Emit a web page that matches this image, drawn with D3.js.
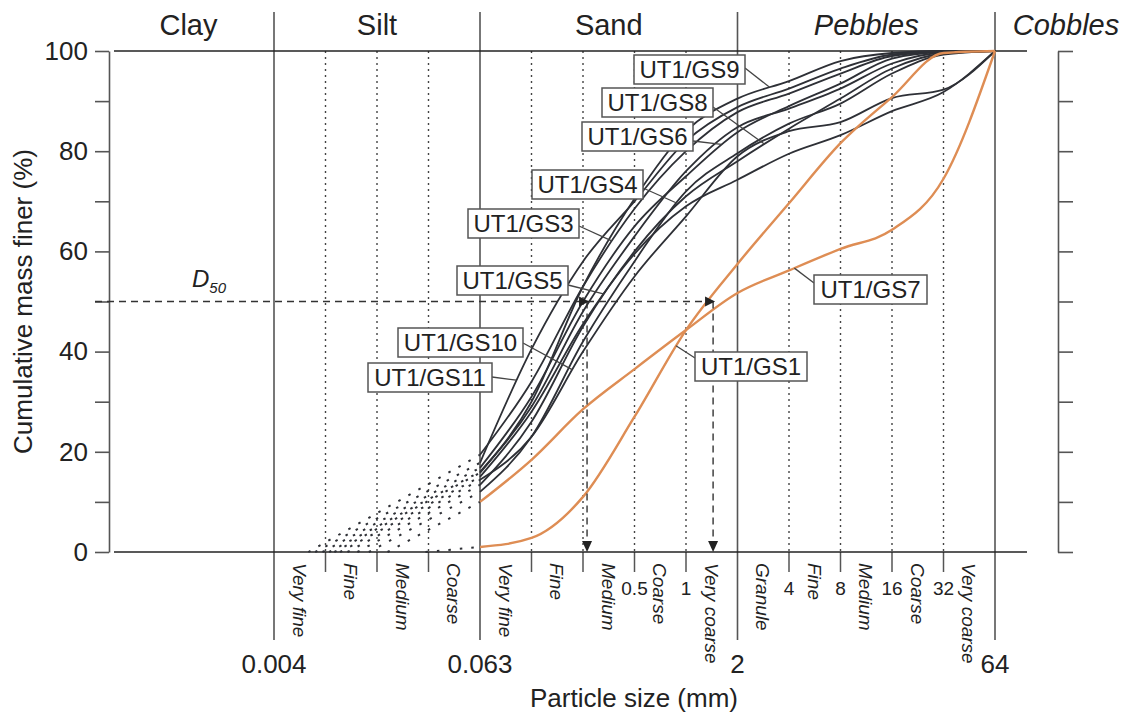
<!DOCTYPE html>
<html>
<head>
<meta charset="utf-8">
<script src="https://cdn.jsdelivr.net/npm/d3@7/dist/d3.min.js"></script>
<style>
  body { margin: 0; background: #fff; }
  svg { display: block; font-family: "Liberation Sans", Arial, sans-serif; }
</style>
</head>
<body>
<svg id="chart" width="1139" height="718"></svg>
<script>
// Sieve sizes (mm), one phi step apart
const sizesMm = [0.0625, 0.125, 0.25, 0.5, 1, 2, 4, 8, 16, 32, 64];

// Cumulative mass finer (%) at each sieve size
const gs1 = [1, 2.8, 11, 27, 44.3, 57.5, 69.6, 81.6, 90.8, 99.6, 100];
const gs2 = [16.0, 29, 48, 63, 76, 84.8, 88.5, 92.5, 97.5, 99.7, 100];
const gs3 = [19.4, 34, 53, 68.5, 80, 87.8, 91.5, 95.5, 99, 99.9, 100];
const gs4 = [12.0, 23, 42, 58, 72, 79.6, 85.5, 89.5, 95.5, 99.3, 100];
const gs5 = [15.0, 28, 45.5, 59.5, 69, 74.3, 79.5, 83.2, 88, 91.8, 100];
const gs6 = [16.8, 31, 50, 65, 75, 83.8, 89, 93.5, 98.5, 99.8, 100];
const gs7 = [10, 18.4, 28.5, 36.5, 44.3, 51.7, 56.2, 60.5, 64.3, 74.5, 100];
const gs8 = [13.4, 26, 45, 60, 71, 78, 84.5, 90.5, 96.5, 99.5, 100];
const gs9 = [15.8, 30, 53, 70.5, 84, 90.5, 94, 98, 99.6, 100, 100];
const gs10 = [14.4, 23, 40, 55, 67, 79, 84, 85.8, 90.6, 92.3, 100];
const gs11 = [17.8, 40.5, 58, 70, 82, 88.8, 92.5, 96.5, 99.3, 100, 100];

// Size (mm) where the dotted extrapolation of each curve reaches 0 %
const zeroSize = {
  GS1: 0.03, GS2: 0.0082, GS3: 0.0062, GS4: 0.014, GS5: 0.0095, GS6: 0.0075,
  GS7: 0.018, GS8: 0.012, GS9: 0.0088, GS10: 0.0105, GS11: 0.0068
};

// D50 read-offs (mm)
const d50Sizes = [0.264, 1.44];

// Wentworth classes
const mainBounds = [1 / 256, 1 / 16, 2, 64];
const mainBoundLabels = ['0.004', '0.063', '2', '64'];
const subBounds = [1 / 128, 1 / 64, 1 / 32, 1 / 8, 1 / 4, 1 / 2, 1, 4, 8, 16, 32];
const subBoundLabels = { 0.5: '0.5', 1: '1', 4: '4', 8: '8', 16: '16', 32: '32' };
const classNames = [
  'Very fine', 'Fine', 'Medium', 'Coarse',
  'Very fine', 'Fine', 'Medium', 'Coarse', 'Very coarse',
  'Granule', 'Fine', 'Medium', 'Coarse', 'Very coarse'
];
const headerNames = ['Clay', 'Silt', 'Sand', 'Pebbles', 'Cobbles'];
const yTicks = d3.range(0, 101, 10);

const series = [
  { id: 'GS2', values: gs2, color: 'black' },
  { id: 'GS3', values: gs3, color: 'black' },
  { id: 'GS4', values: gs4, color: 'black' },
  { id: 'GS5', values: gs5, color: 'black' },
  { id: 'GS6', values: gs6, color: 'black' },
  { id: 'GS8', values: gs8, color: 'black' },
  { id: 'GS9', values: gs9, color: 'black' },
  { id: 'GS10', values: gs10, color: 'black' },
  { id: 'GS11', values: gs11, color: 'black' },
  { id: 'GS1', values: gs1, color: 'orange' },
  { id: 'GS7', values: gs7, color: 'orange' }
];

// label boxes: layout only, leader goes to the named curve at size `at`
const labels = [
  { id: 'GS9', bx: 634, by: 55, w: 111, side: 'right', ly: 13, at: 3.08 },
  { id: 'GS8', bx: 602, by: 88, w: 111, side: 'right', ly: 19, at: 2.87 },
  { id: 'GS6', bx: 582, by: 122, w: 111, side: 'right', ly: 19, at: 1.61 },
  { id: 'GS4', bx: 532, by: 170, w: 111, side: 'right', ly: 18, at: 0.874 },
  { id: 'GS3', bx: 468, by: 209, w: 111, side: 'right', ly: 17, at: 0.368 },
  { id: 'GS5', bx: 457, by: 266, w: 111, side: 'right', ly: 19, at: 0.329 },
  { id: 'GS10', bx: 398, by: 328, w: 125, side: 'right', ly: 15, at: 0.216 },
  { id: 'GS11', bx: 368, by: 363, w: 124, side: 'right', ly: 14, at: 0.102 },
  { id: 'GS1', bx: 695, by: 352, w: 112, side: 'left', ly: 6, at: 0.874 },
  { id: 'GS7', bx: 814, by: 275, w: 113, side: 'left', ly: 8, at: 4.3 }
];

const ink = '#2e3036';
const orange = '#de8d54';
const textColor = '#222';

const svg = d3.select('#chart');
const x = d3.scaleLog().base(2).domain([1 / 256, 64]).range([274, 995]);
const y = d3.scaleLinear().domain([0, 100]).range([552, 51]);

// Dotted class lines inside the plot + short ticks below the axis
const grid = svg.append('g');
grid.selectAll('line.dot').data(subBounds).join('line')
  .attr('class', 'dot')
  .attr('x1', (d) => x(d)).attr('x2', (d) => x(d))
  .attr('y1', y(100)).attr('y2', y(0))
  .attr('stroke', '#444').attr('stroke-width', 1.4)
  .attr('stroke-dasharray', '2,4');
grid.selectAll('line.sub').data(subBounds).join('line')
  .attr('class', 'sub')
  .attr('x1', (d) => x(d)).attr('x2', (d) => x(d))
  .attr('y1', y(0)).attr('y2', y(0) + 20)
  .attr('stroke', '#555').attr('stroke-width', 1.5);

// Main class boundaries
grid.selectAll('line.main').data(mainBounds).join('line')
  .attr('class', 'main')
  .attr('x1', (d) => x(d)).attr('x2', (d) => x(d))
  .attr('y1', 12).attr('y2', 640)
  .attr('stroke', '#555').attr('stroke-width', 1.6);

// Top and bottom frame lines
grid.selectAll('line.frame').data([100, 0]).join('line')
  .attr('class', 'frame')
  .attr('x1', 114).attr('x2', 1027)
  .attr('y1', (d) => y(d)).attr('y2', (d) => y(d))
  .attr('stroke', '#222').attr('stroke-width', 1.6);

// Left axis
const leftAxis = svg.append('g')
  .attr('transform', 'translate(109,0)')
  .call(d3.axisLeft(y).tickValues(yTicks).tickSize(14).tickSizeOuter(0).tickPadding(7)
    .tickFormat((d) => (d % 20 === 0 ? d : '')));
// Right axis (no labels)
const rightAxis = svg.append('g')
  .attr('transform', 'translate(1058,0)')
  .call(d3.axisRight(y).tickValues(yTicks).tickSize(15).tickSizeOuter(0).tickFormat(''));
[leftAxis, rightAxis].forEach((a) => {
  a.select('.domain').attr('stroke', '#555').attr('stroke-width', 1.6);
  a.selectAll('.tick line').attr('stroke', '#555').attr('stroke-width', 1.6);
  a.selectAll('.tick text').attr('fill', textColor)
    .style('font-size', '26px').style('font-family', '"Liberation Sans", Arial, sans-serif');
});

// Axis titles
svg.append('text')
  .attr('transform', `translate(32,${(y(0) + y(100)) / 2}) rotate(-90)`)
  .attr('text-anchor', 'middle')
  .attr('fill', textColor).style('font-size', '26px')
  .text('Cumulative mass finer (%)');
svg.append('text')
  .attr('x', 634).attr('y', 707)
  .attr('text-anchor', 'middle')
  .attr('fill', textColor).style('font-size', '26px')
  .text('Particle size (mm)');

// Header class names
const headerEdges = [x.range()[0] - 165, ...mainBounds.map((d) => x(d)), x(64) + 142];
svg.append('g').selectAll('text').data(headerNames).join('text')
  .attr('x', (d, i) => (headerEdges[i] + headerEdges[i + 1]) / 2 + (i === 0 ? -3 : 0))
  .attr('y', 35)
  .attr('text-anchor', 'middle')
  .attr('fill', textColor)
  .style('font-size', '29px')
  .style('font-style', (d) => (d === 'Pebbles' || d === 'Cobbles' ? 'italic' : 'normal'))
  .text((d) => d);

// Boundary values under the axis
svg.append('g').selectAll('text').data(mainBounds).join('text')
  .attr('x', (d) => x(d)).attr('y', 673)
  .attr('text-anchor', 'middle')
  .attr('fill', textColor).style('font-size', '26px')
  .text((d, i) => mainBoundLabels[i]);
svg.append('g').selectAll('text').data(subBounds.filter((d) => subBoundLabels[d])).join('text')
  .attr('x', (d) => x(d)).attr('y', 595)
  .attr('text-anchor', 'middle')
  .attr('fill', textColor).style('font-size', '19px')
  .text((d) => subBoundLabels[d]);

// Sub-class names, rotated
const allBounds = [...mainBounds, ...subBounds].sort((a, b) => a - b);
const mids = d3.range(allBounds.length - 1).map((i) => Math.sqrt(allBounds[i] * allBounds[i + 1]));
svg.append('g').selectAll('text').data(mids).join('text')
  .attr('transform', (d) => `translate(${x(d) - 7},563) rotate(90)`)
  .attr('fill', textColor)
  .style('font-size', '19px').style('font-style', 'italic')
  .text((d, i) => classNames[i]);

// Dotted extrapolations towards 0 %
svg.append('g').selectAll('line').data(series).join('line')
  .attr('x1', (d) => x(zeroSize[d.id])).attr('y1', y(0))
  .attr('x2', x(sizesMm[0])).attr('y2', (d) => y(d.values[0]))
  .attr('stroke', ink).attr('stroke-width', 2)
  .attr('stroke-dasharray', '2.5,9');

// Grading curves
const line = d3.line()
  .x((d) => x(d[0]))
  .y((d) => y(d[1]))
  .curve(d3.curveMonotoneX);
const paths = {};
svg.append('g').selectAll('path').data(series).join('path')
  .attr('d', (d) => line(sizesMm.map((s, i) => [s, d.values[i]])))
  .attr('fill', 'none')
  .attr('stroke', (d) => (d.color === 'orange' ? orange : ink))
  .attr('stroke-width', (d) => (d.color === 'orange' ? 2.4 : 1.8))
  .each(function (d) { paths[d.id] = this; });

// D50 construction
const d50 = svg.append('g');
d50.append('line')
  .attr('x1', 95).attr('x2', x(d50Sizes[1]))
  .attr('y1', y(50)).attr('y2', y(50))
  .attr('stroke', '#333').attr('stroke-width', 1.4).attr('stroke-dasharray', '7,5');
d50.selectAll('line.v').data(d50Sizes).join('line')
  .attr('class', 'v')
  .attr('x1', (d) => x(d)).attr('x2', (d) => x(d))
  .attr('y1', y(50)).attr('y2', y(0) - 8)
  .attr('stroke', '#333').attr('stroke-width', 1.4).attr('stroke-dasharray', '7,5');
d50.selectAll('path.right').data(d50Sizes).join('path')
  .attr('class', 'right')
  .attr('d', (d) => `M${x(d) + 2},${y(50)} l-10,-5 l0,10 Z`)
  .attr('fill', '#222');
d50.selectAll('path.down').data(d50Sizes).join('path')
  .attr('class', 'down')
  .attr('d', (d) => `M${x(d)},${y(0)} l-5,-11 l10,0 Z`)
  .attr('fill', '#222');
const d50Text = svg.append('text')
  .attr('x', 192).attr('y', 287)
  .attr('fill', textColor).style('font-style', 'italic').style('font-size', '24px');
d50Text.append('tspan').text('D');
d50Text.append('tspan').attr('dy', 6).style('font-size', '15px').text('50');

// Find the point of a drawn curve at a given particle size
function pointAt(pathEl, size) {
  const tx = x(size);
  let lo = 0;
  let hi = pathEl.getTotalLength();
  for (let k = 0; k < 40; k++) {
    const mid = (lo + hi) / 2;
    if (pathEl.getPointAtLength(mid).x < tx) lo = mid; else hi = mid;
  }
  return pathEl.getPointAtLength(lo);
}

// Labels with leader lines
const lab = svg.append('g');
labels.forEach((l) => {
  const p = pointAt(paths[l.id], l.at);
  const sx = l.side === 'right' ? l.bx + l.w : l.bx;
  lab.append('line')
    .attr('x1', sx).attr('y1', l.by + l.ly)
    .attr('x2', p.x).attr('y2', p.y)
    .attr('stroke', '#444').attr('stroke-width', 1.3);
  lab.append('rect')
    .attr('x', l.bx).attr('y', l.by)
    .attr('width', l.w).attr('height', 29)
    .attr('fill', '#fff').attr('stroke', '#555').attr('stroke-width', 1.5);
  lab.append('text')
    .attr('x', l.bx + l.w / 2).attr('y', l.by + 23)
    .attr('text-anchor', 'middle')
    .attr('fill', textColor).style('font-size', '24px')
    .text('UT1/' + l.id);
});
</script>
</body>
</html>
